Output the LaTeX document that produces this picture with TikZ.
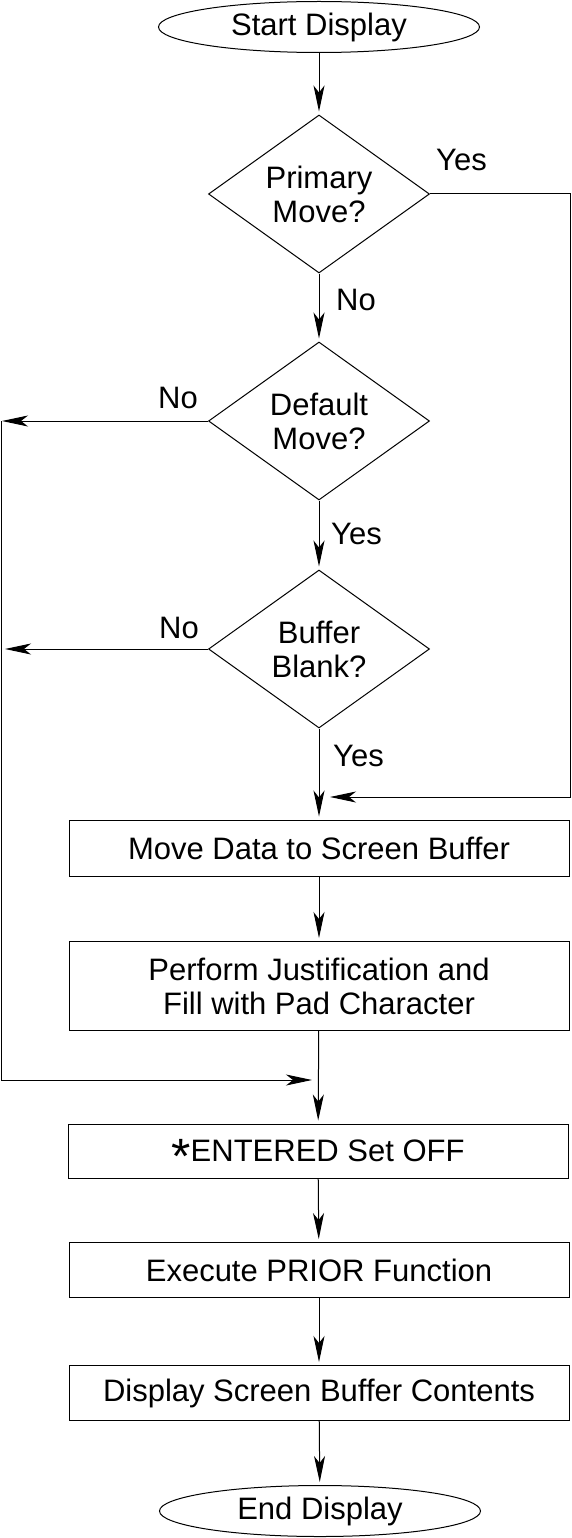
\documentclass[tikz,border=0pt]{standalone}
\usepackage{fontspec}
\setmainfont{Liberation Sans}
\usetikzlibrary{arrows.meta,positioning,shapes.geometric}
\definecolor{flowInk}{HTML}{000000}
\tikzset{
  every picture/.style={font=\fontsize{31}{34}\selectfont, text=flowInk},
  flow term/.style={ellipse, draw=flowInk, line width=1pt,
    minimum width=321pt, minimum height=51pt, inner sep=0pt},
  flow test/.style={diamond, draw=flowInk, line width=1pt, aspect=1.39,
    minimum width=221pt, minimum height=158pt, inner sep=0pt, align=center},
  flow box/.style={rectangle, draw=flowInk, line width=1pt,
    minimum width=500pt, inner sep=0pt, align=center},
  flow line/.style={draw=flowInk, line width=1pt},
  flow arrow/.style={-{Stealth[length=26pt,width=11pt,inset=7pt]},
    draw=flowInk, line width=1pt, shorten >=3pt},
  flow label/.style={inner sep=0pt}
}
\newcommand{\flowstar}{\raisebox{-0.38em}[0pt][0pt]{\scalebox{1.6}{*}}}

\begin{document}
\begin{tikzpicture}[x=1pt,y=-1pt]
  \useasboundingbox (0,0) rectangle (571,1538);
  % main column
  \node[flow term] (start) at (319,27) {Start Display};
  \node[flow test] (prim) at (319,194) {Primary\\Move?};
  \node[flow test] (dflt) at (319,421) {Default\\Move?};
  \node[flow test] (buf) at (319,649) {Buffer\\Blank?};
  \node[flow box, minimum height=56pt] (move) at (319,848) {Move Data to Screen Buffer};
  \node[flow box, minimum height=89pt] (perf) at (319,986) {Perform Justification and\\Fill with Pad Character};
  \node[flow box, minimum height=54pt] (ent) at (318,1151) {\flowstar ENTERED Set OFF};
  \node[flow box, minimum height=55pt] (exec) at (319,1270) {Execute PRIOR Function};
  \node[flow box, minimum height=55pt] (disp) at (319,1393) {Display Screen Buffer Contents};
  \node[flow term] (end) at (320,1511) {End Display};

  % branch labels
  \node[flow label, anchor=west] (primyes) at ([xshift=6pt,yshift=34pt]prim.east) {Yes};
  \node[flow label, anchor=west] (primno) at ([xshift=17pt,yshift=-26pt]prim.south) {No};
  \node[flow label, anchor=east] (dfltno) at ([xshift=-10pt,yshift=23pt]dflt.west) {No};
  \node[flow label, anchor=west] (dfltyes) at ([xshift=12pt,yshift=-33pt]dflt.south) {Yes};
  \node[flow label, anchor=east] (bufno) at ([xshift=-9pt,yshift=21pt]buf.west) {No};
  \node[flow label, anchor=west] (bufyes) at ([xshift=14pt,yshift=-27pt]buf.south) {Yes};

  % junctions
  \coordinate (joinyes) at (319,797);
  \coordinate (joinno) at (319,1080);
  \coordinate (railtop) at (1,421);
  \coordinate (railbuf) at (1,649);

  \draw[flow arrow] (start) -- (prim);
  \draw[flow arrow] (prim) -- (dflt);
  \draw[flow arrow] (dflt) -- (buf);
  \draw[flow arrow] (buf) -- (move);
  \draw[flow arrow] (move) -- (perf);
  \draw[flow arrow] (perf) -- (ent);
  \draw[flow arrow] (ent) -- (exec);
  \draw[flow arrow] (exec) -- (disp);
  \draw[flow arrow] (disp) -- (end);

  \draw[flow arrow, shorten >=11pt] (prim.east) -- (570,194) |- (joinyes);
  \draw[flow arrow, shorten >=1pt] (dflt.west) -- (railtop);
  \draw[flow arrow, shorten >=4pt] (buf.west) -- (railbuf);
  \draw[flow arrow, shorten >=7pt] (railtop) |- (joinno);
\end{tikzpicture}
\end{document}
